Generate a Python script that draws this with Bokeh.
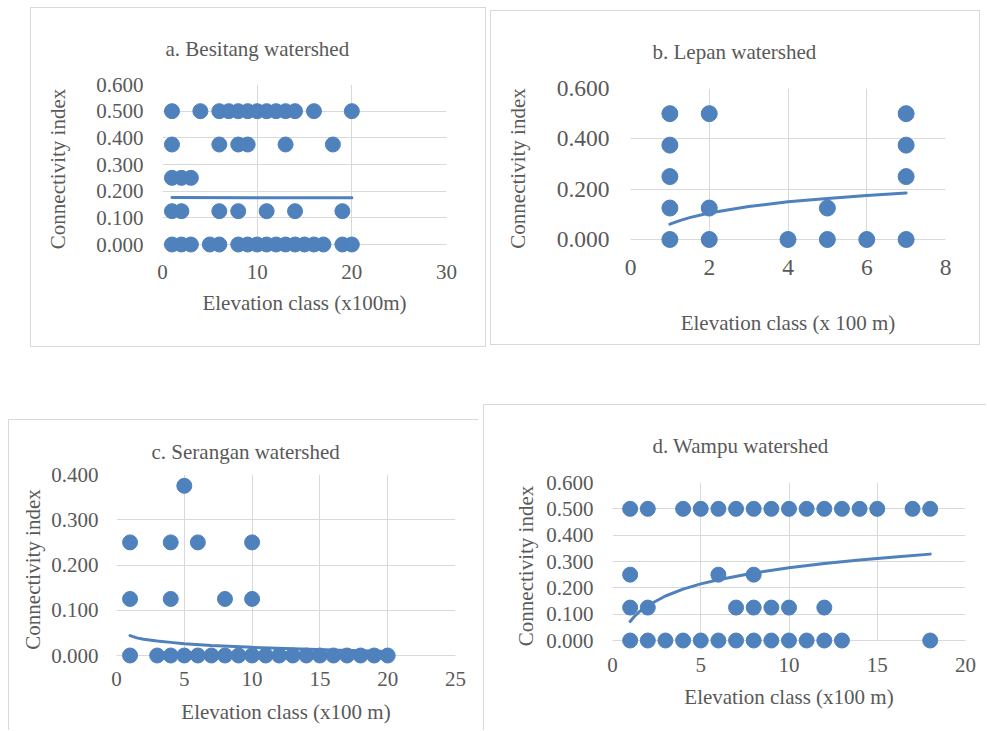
from bokeh.plotting import figure
from bokeh.layouts import row, column
from bokeh.models import Range1d, FixedTicker, NumeralTickFormatter, BoxAnnotation, Span, Spacer
from bokeh.embed import file_html
from bokeh.resources import INLINE

# ---------------- data ----------------
# a. Besitang watershed: connectivity levels and the elevation classes at each level
besitang_levels = [0.500, 0.375, 0.250, 0.125, 0.000]
besitang_classes = [
    [1, 4, 6, 7, 8, 9, 10, 11, 12, 13, 14, 16, 20],
    [1, 6, 8, 9, 13, 18],
    [1, 2, 3],
    [1, 2, 6, 8, 11, 14, 19],
    [1, 2, 3, 5, 6, 8, 9, 10, 11, 12, 13, 14, 15, 16, 17, 19, 20],
]
besitang_trend_x = [1, 20]
besitang_trend_y = [0.176, 0.175]
besitang_xticks = [0, 10, 20, 30]
besitang_yticks = [0.0, 0.1, 0.2, 0.3, 0.4, 0.5, 0.6]

# b. Lepan watershed
lepan_levels = [0.500, 0.375, 0.250, 0.125, 0.000]
lepan_classes = [
    [1, 2, 7],
    [1, 7],
    [1, 7],
    [1, 2, 5],
    [1, 2, 4, 5, 6, 7],
]
lepan_trend_x = [1, 1.25, 1.5, 2, 3, 4, 5, 6, 7]
lepan_trend_y = [0.061, 0.075, 0.087, 0.105, 0.131, 0.150, 0.163, 0.175, 0.185]
lepan_xticks = [0, 2, 4, 6, 8]
lepan_yticks = [0.0, 0.2, 0.4, 0.6]

# c. Serangan watershed
serangan_levels = [0.375, 0.250, 0.125, 0.000]
serangan_classes = [
    [5],
    [1, 4, 6, 10],
    [1, 4, 8, 10],
    [1, 3, 4, 5, 6, 7, 8, 9, 10, 11, 12, 13, 14, 15, 16, 17, 18, 19, 20],
]
serangan_trend_x = [1, 1.5, 2, 3, 4, 5, 7, 10, 13, 16, 20]
serangan_trend_y = [0.044, 0.039, 0.036, 0.032, 0.029, 0.026, 0.022, 0.018, 0.015, 0.012, 0.009]
serangan_xticks = [0, 5, 10, 15, 20, 25]
serangan_yticks = [0.0, 0.1, 0.2, 0.3, 0.4]

# d. Wampu watershed
wampu_levels = [0.500, 0.250, 0.125, 0.000]
wampu_classes = [
    [1, 2, 4, 5, 6, 7, 8, 9, 10, 11, 12, 13, 14, 15, 17, 18],
    [1, 6, 8],
    [1, 2, 7, 8, 9, 10, 12],
    [1, 2, 3, 4, 5, 6, 7, 8, 9, 10, 11, 12, 13, 18],
]
wampu_trend_x = [1, 1.25, 1.5, 2, 3, 4, 5, 6, 8, 10, 12, 14, 16, 18]
wampu_trend_y = [0.072, 0.092, 0.108, 0.133, 0.169, 0.195, 0.215, 0.231, 0.256, 0.276, 0.292, 0.306, 0.317, 0.328]
wampu_xticks = [0, 5, 10, 15, 20]
wampu_yticks = [0.0, 0.1, 0.2, 0.3, 0.4, 0.5, 0.6]

# ---------------- styling ----------------
BLUE = "#4f81bd"
GRID = "#d9d9d9"
TEXT = "#595959"
FONT = "Liberation Serif"
PAD = 9  # px below the zero line so that markers at 0 are not cut


def flatten(levels, classes):
    xs, ys = [], []
    for lev, cls in zip(levels, classes):
        for c in cls:
            xs.append(c)
            ys.append(lev)
    return xs, ys


def panel(title, levels, classes, tx, ty, xticks, yticks, xlabel,
          W, H, L, R, T, B0, tick_font, title_off, title_so,
          xt_so, xl_so, yt_so, yl_so, msize, frame_style):
    ymax = yticks[-1]
    xmax = xticks[-1]
    pad = PAD * ymax / (B0 - T)
    B = B0 + PAD
    p = figure(width=W, height=H, output_backend="svg", toolbar_location=None,
               x_range=Range1d(0, xmax), y_range=Range1d(-pad, ymax),
               min_border_left=L, min_border_right=W - R,
               min_border_top=T, min_border_bottom=H - B,
               border_fill_color=None, background_fill_color="white",
               outline_line_color=None, styles=frame_style)
    p.title.text = title
    p.title.align = "left"
    p.title.offset = title_off
    p.title.standoff = title_so
    p.title.text_font = FONT
    p.title.text_font_size = "21px"
    p.title.text_font_style = "normal"
    p.title.text_color = TEXT

    p.xaxis.ticker = FixedTicker(ticks=xticks)
    p.yaxis.ticker = FixedTicker(ticks=yticks)
    p.yaxis.formatter = NumeralTickFormatter(format="0.000")
    p.xaxis.axis_label = xlabel
    p.yaxis.axis_label = "Connectivity index"
    for ax in (p.xaxis, p.yaxis):
        ax.axis_line_color = None
        ax.major_tick_line_color = None
        ax.minor_tick_line_color = None
        ax.major_tick_in = 0
        ax.major_tick_out = 0
        ax.major_label_text_font = FONT
        ax.major_label_text_font_size = tick_font
        ax.major_label_text_color = TEXT
        ax.axis_label_text_font = FONT
        ax.axis_label_text_font_size = "21px"
        ax.axis_label_text_font_style = "normal"
        ax.axis_label_text_color = TEXT
    p.xaxis.major_label_standoff = max(xt_so - PAD, 0)
    p.xaxis.axis_label_standoff = xl_so
    p.yaxis.major_label_standoff = yt_so
    p.yaxis.axis_label_standoff = yl_so

    p.xgrid.ticker = FixedTicker(ticks=xticks)
    p.ygrid.ticker = FixedTicker(ticks=yticks)
    for g in (p.xgrid, p.ygrid):
        g.grid_line_color = GRID
        g.grid_line_width = 1

    # hide grid below zero line, then draw the horizontal axis line
    p.add_layout(BoxAnnotation(top=0, fill_color="white", fill_alpha=1,
                               line_color=None, level="underlay"))
    p.add_layout(Span(location=0, dimension="width", line_color=GRID,
                      line_width=1, level="underlay"))

    xs, ys = flatten(levels, classes)
    p.scatter(xs, ys, marker="circle", size=msize, fill_color=BLUE,
              line_color=BLUE, line_width=1)
    p.line(tx, ty, line_color=BLUE, line_width=3, line_cap="round")
    return p


FULL = {"box-shadow": "inset 0 0 0 1px #d9d9d9"}
TOPLEFT = {"box-shadow": "inset 1px 1px 0 0 #d9d9d9"}

pa = panel("a. Besitang watershed", besitang_levels, besitang_classes,
           besitang_trend_x, besitang_trend_y, besitang_xticks, besitang_yticks,
           "Elevation class (x100m)",
           W=456, H=340, L=132, R=416, T=77, B0=237, tick_font="21px",
           title_off=3, title_so=48, xt_so=20, xl_so=9, yt_so=19, yl_so=23,
           msize=15, frame_style=FULL)

pb = panel("b. Lepan watershed", lepan_levels, lepan_classes,
           lepan_trend_x, lepan_trend_y, lepan_xticks, lepan_yticks,
           "Elevation class (x 100 m)",
           W=490, H=335, L=140, R=455, T=78, B0=229, tick_font="23.5px",
           title_off=22, title_so=50, xt_so=20, xl_so=33, yt_so=21, yl_so=24,
           msize=16, frame_style=FULL)

pc = panel("c. Serangan watershed", serangan_levels, serangan_classes,
           serangan_trend_x, serangan_trend_y, serangan_xticks, serangan_yticks,
           "Elevation class (x100 m)",
           W=470, H=311, L=108, R=447, T=55, B0=236, tick_font="21px",
           title_off=35, title_so=22, xt_so=16, xl_so=11, yt_so=18, yl_so=3,
           msize=15, frame_style=TOPLEFT)

pd_ = panel("d. Wampu watershed", wampu_levels, wampu_classes,
            wampu_trend_x, wampu_trend_y, wampu_xticks, wampu_yticks,
            "Elevation class (x100 m)",
            W=503, H=326, L=129, R=482, T=78, B0=236, tick_font="21px",
            title_off=40, title_so=50, xt_so=17, xl_so=10, yt_so=19, yl_so=5,
            msize=15, frame_style=TOPLEFT)

row1 = row(Spacer(width=30, height=347),
           column(Spacer(width=456, height=7), pa),
           Spacer(width=4, height=347),
           column(Spacer(width=490, height=10), pb))
row2 = row(Spacer(width=8, height=326),
           column(Spacer(width=470, height=15), pc),
           Spacer(width=5, height=326), pd_)
layout = column(row1, Spacer(width=986, height=57), row2)

open("out.html", "w").write(file_html(layout, INLINE))
